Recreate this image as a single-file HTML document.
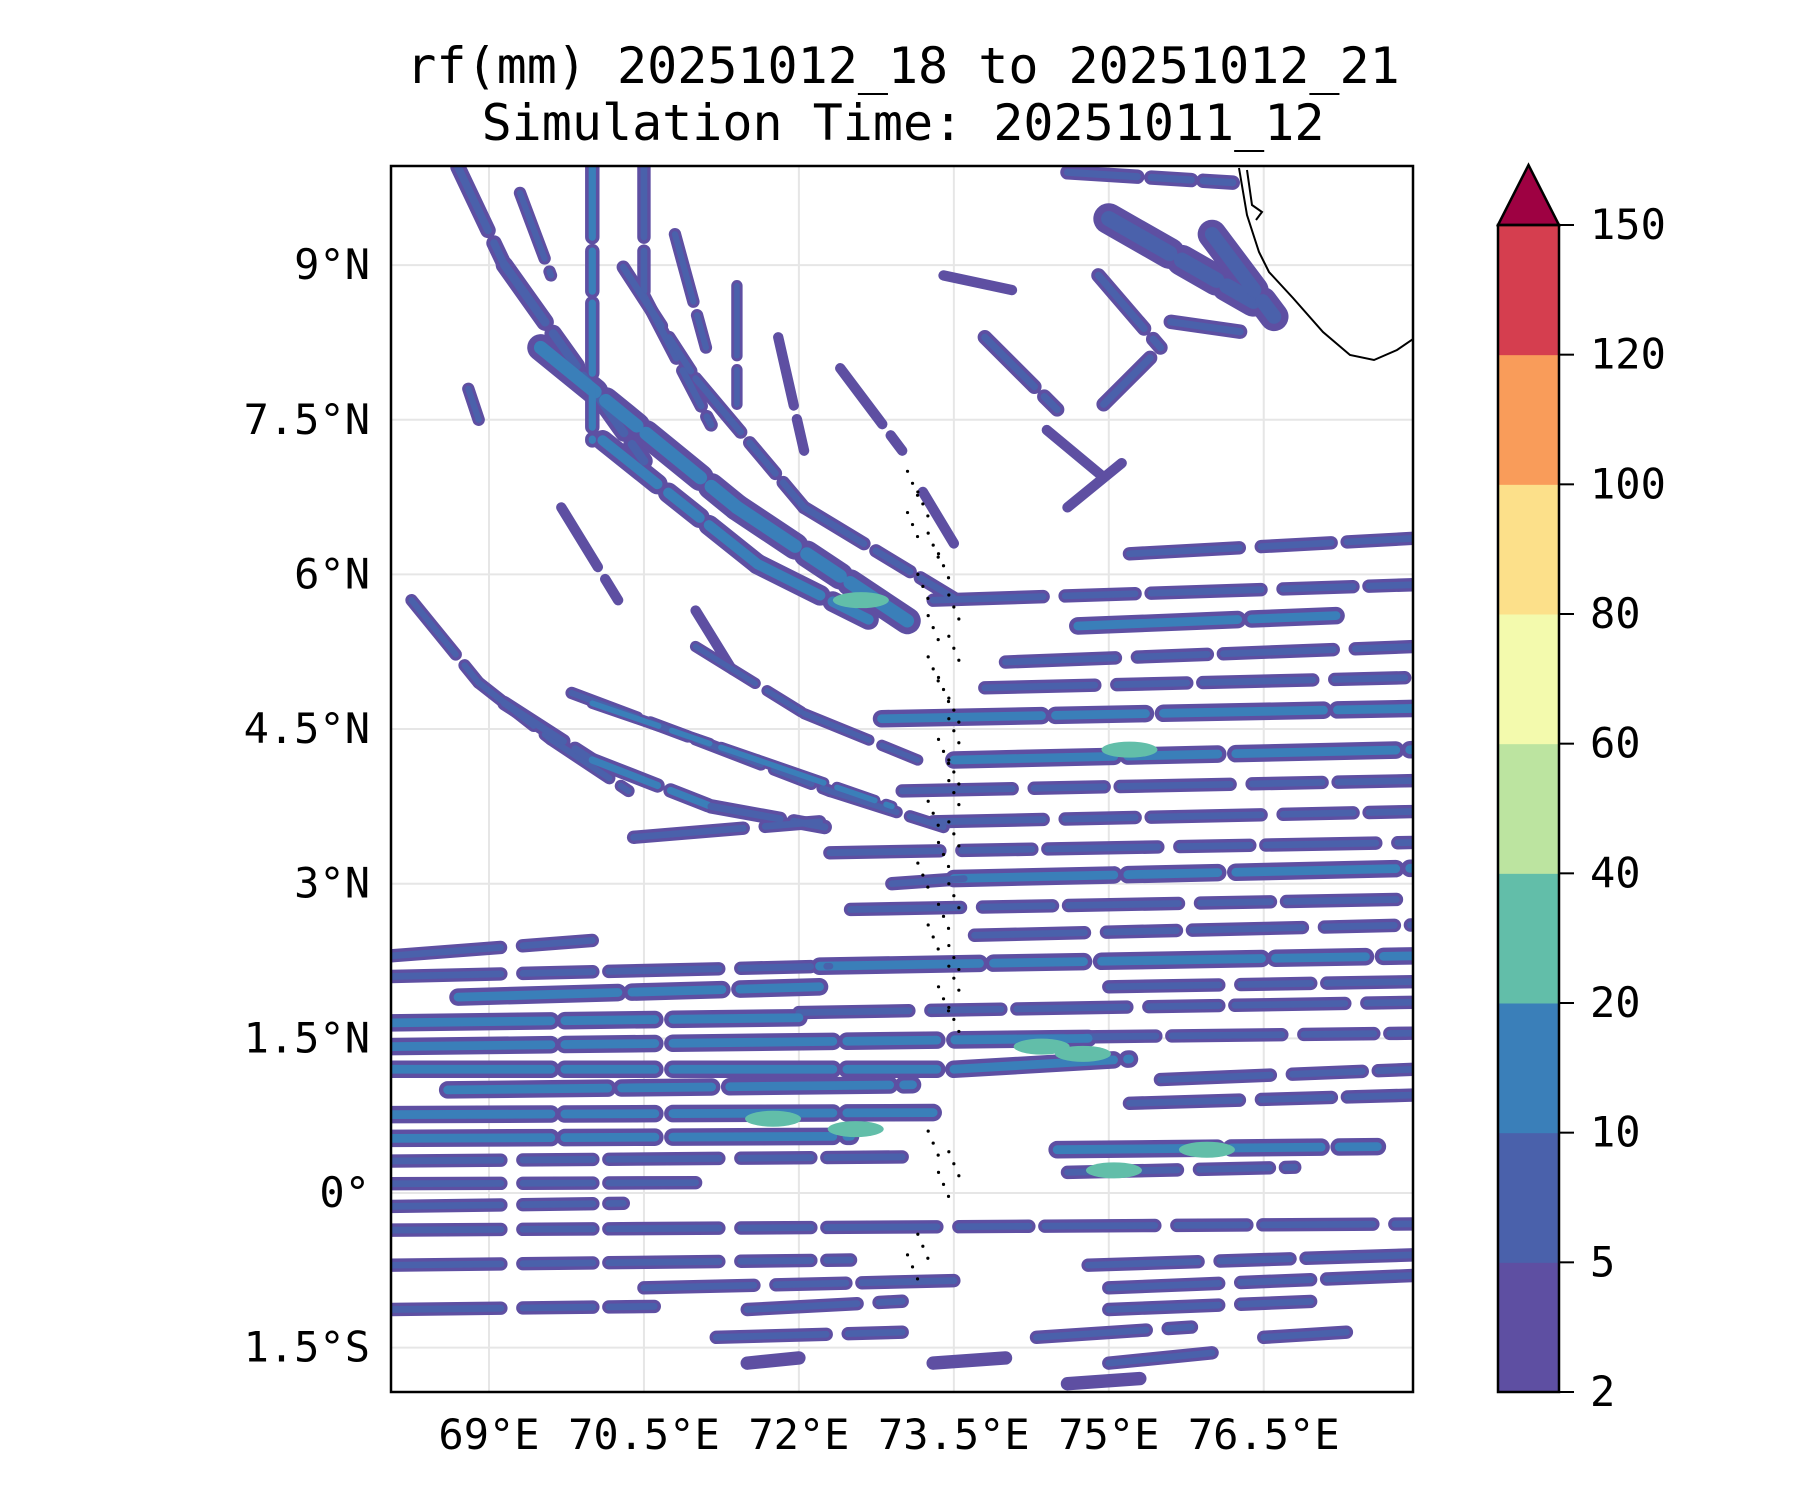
<!DOCTYPE html>
<html><head><meta charset="utf-8">
<style>
html,body{margin:0;padding:0;background:#fff;}
svg{display:block;font-family:"DejaVu Sans Mono","Liberation Mono",monospace;}
</style></head>
<body>
<svg id="chart" width="1800" height="1500" viewBox="0 0 1800 1500" xmlns="http://www.w3.org/2000/svg">
<defs><clipPath id="plotclip"><rect x="391" y="166" width="1022" height="1226"/></clipPath></defs>
<text x="903" y="83" font-size="50" text-anchor="middle">rf(mm) 20251012_18 to 20251012_21</text>
<text x="903" y="140" font-size="50" text-anchor="middle">Simulation Time: 20251011_12</text>
<g id="grid"></g>
<g id="field" clip-path="url(#plotclip)"></g>
<g clip-path="url(#plotclip)">
<path d="M1239,168 L1247,215 L1259,252 L1269,272 L1293,298 L1323,332 L1350,355 L1374,360 L1397,350 L1416,337" fill="none" stroke="#000" stroke-width="2"/>
<path d="M1247,170 L1252,205 L1262,212 L1256,220" fill="none" stroke="#000" stroke-width="2"/>
</g>
<g id="islands"></g>
<rect x="391" y="166" width="1022" height="1226" fill="none" stroke="#000" stroke-width="2.5"/>
<g id="yticks"></g>
<g id="xticks"></g>
<g id="cbar"></g>
</svg>
<script>
// ---- colour scale data ----
const levelBounds = [2,5,10,20,40,60,80,100,120,150];
const levelColors = ['#5e4fa2','#4a61ab','#3a7fb9','#62bea9','#bce4a0','#f3faad','#fce08a','#f99c5a','#d53e4f'];
const extendColor = '#9e0142';
const latTicks = [-1.5,0,1.5,3,4.5,6,7.5,9];
const latTickLabels = ['1.5°S','0°','1.5°N','3°N','4.5°N','6°N','7.5°N','9°N'];
const lonTicks = [69,70.5,72,73.5,75,76.5];
const lonTickLabels = ['69°E','70.5°E','72°E','73.5°E','75°E','76.5°E'];

// ---- diagonal/curved streaks (lon/lat endpoints, rainfall class, width in degrees) ----
const sLon1 = [68.7,69.15,69.5,71.4,70.0,70.1,71.6,70.5,70.5,70.3,71.0,72.05,71.4,69.7,71.8,71.0,68.25,68.9,69.6,69.15,70.0,71.15,69.8,71.0,72.3,70.0,71.6,71.0,72.05,75.0,74.6,74.9,73.4,75.6,74.95,74.6,76.0,73.8,74.4,68.8,69.3,70.8,72.4,73.2];
const sLat1 = [9.95,9.0,8.2,6.65,9.95,7.3,6.1,9.95,8.7,8.98,7.9,6.65,8.8,6.65,8.3,5.65,5.75,4.95,4.4,4.75,4.2,3.75,4.85,4.4,3.9,4.75,4.2,5.3,4.65,9.45,9.9,8.9,8.9,8.45,7.65,6.65,9.3,8.3,7.4,7.8,9.7,9.3,8.0,6.8];
const sLon2 = [69.15,70.5,71.4,73.05,70.0,71.6,72.7,70.5,71.15,71.0,72.05,73.5,71.4,70.25,72.05,71.4,68.9,69.6,70.35,70.0,71.15,72.25,71.0,72.3,73.4,71.6,72.9,72.05,73.15,76.4,76.2,75.5,74.1,76.3,75.4,75.15,76.6,74.5,75.0,68.9,69.6,71.1,73.0,73.5];
const sLat2 = [9.0,7.1,6.65,5.55,7.3,6.1,5.55,8.7,7.45,7.9,6.65,5.77,7.65,5.75,7.2,5.0,4.95,4.4,3.9,4.2,3.75,3.55,4.4,3.9,3.55,4.2,3.75,4.65,4.2,8.65,9.8,8.2,8.75,8.35,8.1,7.1,8.5,7.6,6.9,7.5,8.9,8.2,7.2,6.3];
const sLevel = [5,5,10,10,10,10,10,5,5,5,5,5,5,2,2,2,5,5,5,5,10,5,5,5,5,10,10,5,5,5,5,5,2,5,5,2,5,5,2,5,5,5,2,2];
const sWidth = [.15,.17,.26,.26,.14,.2,.2,.13,.13,.13,.13,.13,.11,.1,.1,.1,.12,.12,.12,.14,.14,.14,.12,.12,.12,.11,.11,.11,.11,.3,.14,.14,.1,.14,.14,.1,.28,.14,.1,.12,.12,.12,.1,.1];

// ---- quasi-horizontal bands (lat at west/east end, lon extent, class) ----
const bLon1 = [75.2,73.3,74.7,74.0,73.8,72.8,73.5,73.0,73.3,72.3,73.5,72.5,73.7,72.2,75.0,72.0,73.5,73.5,68.05,68.05,68.7,68.05,68.05,68.05,68.6,68.05,68.05,68.05,68.05,68.05,74.5,74.6,75.2,75.5,68.05,74.8,68.05,70.5,75.0,68.05,71.5,75.0,71.2,74.3,76.5,71.5,73.3,75.0,74.6,70.4,72.9];
const bLon2 = [77.95,77.95,77.2,77.95,77.95,77.95,77.95,77.95,77.95,77.95,77.95,77.95,77.95,77.95,77.95,77.95,77.95,75.2,70.0,72.3,72.2,72.0,74.8,73.4,73.1,73.3,72.5,73.0,71.0,70.3,77.6,76.8,77.95,77.95,77.95,77.95,72.5,73.5,77.95,70.6,73.0,77.0,73.0,75.8,77.3,72.0,74.0,76.0,75.3,72.2,73.6];
const bLatW = [6.2,5.75,5.5,5.15,4.9,4.6,4.2,3.9,3.6,3.3,3.05,2.75,2.5,2.2,2.0,1.75,1.5,1.2,2.3,2.1,1.9,1.65,1.42,1.2,1.0,0.76,0.53,0.31,0.09,-0.13,0.42,0.2,0.87,1.1,-0.36,-0.7,-0.7,-0.92,-0.92,-1.13,-1.13,-1.13,-1.4,-1.4,-1.4,-1.65,-1.65,-1.65,-1.85,3.45,3.0];
const bLatE = [6.35,5.9,5.6,5.3,5.0,4.7,4.3,4.0,3.7,3.4,3.15,2.85,2.6,2.3,2.05,1.85,1.55,1.3,2.45,2.2,2.0,1.7,1.5,1.2,1.05,0.78,0.55,0.35,0.1,-0.1,0.45,0.25,0.95,1.2,-0.3,-0.6,-0.65,-0.85,-0.8,-1.1,-1.05,-1.05,-1.35,-1.3,-1.35,-1.6,-1.6,-1.55,-1.8,3.6,3.05];
const bLevel = [5,5,10,5,5,10,10,5,5,5,10,5,5,10,5,5,5,10,5,5,10,10,10,10,10,10,10,5,5,5,10,5,5,5,5,5,5,5,5,5,5,5,5,5,5,2,2,5,2,5,5];

// ---- intense cores (20-40 mm) ----
const cLon = [71.75,72.55,74.35,74.75,75.05,75.95,72.6,75.2];
const cLat = [0.72,0.62,1.42,1.35,0.22,0.42,5.75,4.3];
const cLevel = [20,20,20,20,20,20,20,20];

// ---- axis functions ----
function X(lon){ return 489 + (lon-69)*103.3; }
function Y(lat){ return 1193 - lat*103.1; }
function colorFor(v){ let i=0; while(i<levelBounds.length-2 && v>=levelBounds[i+1]) i++; return levelColors[i]; }
const NS='http://www.w3.org/2000/svg';
function mk(tag, attrs, parent){ const e=document.createElementNS(NS,tag); for(const k in attrs) e.setAttribute(k,attrs[k]); parent.appendChild(e); return e; }

// grid
const grid=document.getElementById('grid');
lonTicks.forEach(v=>{ const l=mk('line',{x1:X(v),x2:X(v),y1:166,y2:1392,stroke:'#e6e6e6','stroke-width':2},grid);

 });
latTicks.forEach(v=>{ const l=mk('line',{x1:391,x2:1413,y1:Y(v),y2:Y(v),stroke:'#e6e6e6','stroke-width':2},grid);

 });

// field
const field=document.getElementById('field');
const degPx=103.2;
const outerLayer=mk('g',{},field), innerLayer=mk('g',{},field), coreLayer=mk('g',{},field);
for(let i=0;i<sLon1.length;i++){
  const w=sWidth[i]*degPx;
  const dash='70 14 40 12';
  const p=mk('line',{x1:X(sLon1[i]),y1:Y(sLat1[i]),x2:X(sLon2[i]),y2:Y(sLat2[i]),stroke:levelColors[0],'stroke-width':w,'stroke-linecap':'round','stroke-dasharray':dash},outerLayer);
  
  
  if(sLevel[i]>=5){
    const q=mk('line',{x1:X(sLon1[i]),y1:Y(sLat1[i]),x2:X(sLon2[i]),y2:Y(sLat2[i]),stroke:colorFor(sLevel[i]),'stroke-width':w*0.5,'stroke-linecap':'round','stroke-dasharray':dash},innerLayer);
    
    
  }
}
for(let i=0;i<bLon1.length;i++){
  const w=(bLevel[i]>=10?0.17:0.13)*degPx;
  const dash=bLevel[i]>=10?'160 14 90 18':'110 22 70 16';
  const p=mk('line',{x1:X(bLon1[i]),y1:Y(bLatW[i]),x2:X(bLon2[i]),y2:Y(bLatE[i]),stroke:levelColors[0],'stroke-width':w,'stroke-linecap':'round','stroke-dasharray':dash},outerLayer);
  
  
  if(bLevel[i]>=5){
    const q=mk('line',{x1:X(bLon1[i]),y1:Y(bLatW[i]),x2:X(bLon2[i]),y2:Y(bLatE[i]),stroke:colorFor(bLevel[i]),'stroke-width':w*0.5,'stroke-linecap':'round','stroke-dasharray':dash},innerLayer);
    
    
  }
}
for(let i=0;i<cLon.length;i++){
  const e=mk('ellipse',{cx:X(cLon[i]),cy:Y(cLat[i]),rx:28,ry:8,fill:colorFor(cLevel[i])},coreLayer);
  
  
}

// islands (dotted atoll outlines)
const isl=document.getElementById('islands');
const islandLat=[7.0,6.8,6.6,6.4,6.2,6.0,5.8,5.6,5.4,5.2,5.0,4.8,4.6,4.4,4.2,4.0,3.8,3.6,3.4,3.2,3.0,2.8,2.6,2.4,2.2,2.0,1.8,0.6,0.4,0.2,-0.4,-0.6];
const islandLon=[73.1,73.2,73.1,73.3,73.4,73.2,73.5,73.3,73.5,73.3,73.4,73.5,73.5,73.4,73.5,73.5,73.3,73.5,73.4,73.2,73.5,73.4,73.3,73.5,73.5,73.4,73.5,73.3,73.5,73.4,73.2,73.1];
islandLat.forEach((la,i)=>{ for(let k=0;k<3;k++){ const c=mk('circle',{cx:X(islandLon[i])+(k-1)*5,cy:Y(la)+k*12,r:1.6,fill:'#000'},isl);

 } });

// ticks
const yt=document.getElementById('yticks');
latTicks.forEach((v,i)=>{ const t=mk('text',{x:370,y:Y(v)+14,'font-size':42,'text-anchor':'end'},yt); t.textContent=latTickLabels[i];

 });
const xt=document.getElementById('xticks');
lonTicks.forEach((v,i)=>{ const t=mk('text',{x:X(v),y:1449,'font-size':42,'text-anchor':'middle'},xt); t.textContent=lonTickLabels[i];

 });

// colorbar
const cb=document.getElementById('cbar');
const cbX=1498,cbW=61,cbTop=225,cbBot=1392;
const step=(cbBot-cbTop)/(levelBounds.length-1);
for(let i=0;i<levelColors.length;i++){
  const r=mk('rect',{x:cbX,y:cbBot-(i+1)*step,width:cbW,height:step+0.5,fill:levelColors[i]},cb);
  
  
}
const tri=mk('polygon',{points:`${cbX},${cbTop} ${cbX+cbW/2},165 ${cbX+cbW},${cbTop}`,fill:extendColor,stroke:'#000','stroke-width':2.5},cb);


const fr=mk('rect',{x:cbX,y:cbTop,width:cbW,height:cbBot-cbTop,fill:'none',stroke:'#000','stroke-width':2.5},cb);


levelBounds.forEach((v,i)=>{
  const y=cbBot-i*step;
  const tk=mk('line',{x1:cbX+cbW,x2:cbX+cbW+15,y1:y,y2:y,stroke:'#000','stroke-width':2},cb);
  
  
  const t=mk('text',{x:1590,y:y+14,'font-size':42},cb); t.textContent=String(v);
  
  
});
</script>
</body></html>
